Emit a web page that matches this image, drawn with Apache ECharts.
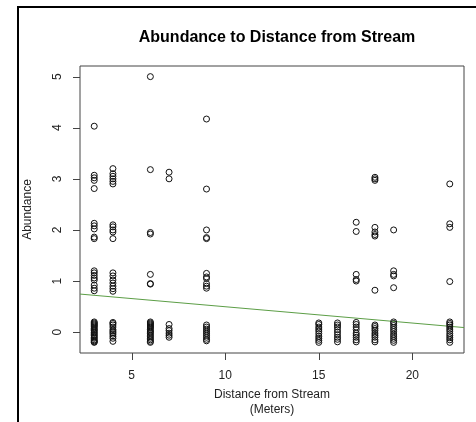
<!DOCTYPE html>
<html>
<head>
<meta charset="utf-8">
<script src="https://cdn.jsdelivr.net/npm/echarts@6/dist/echarts.min.js"></script>
<style>
html,body{margin:0;padding:0;background:#fff;}
#chart{width:476px;height:422px;}
</style>
</head>
<body>
<div id="chart"></div>
<script>
// Distances (meters) and abundance values observed at each distance (jittered as in the source plot)
var distances = [3, 4, 6, 7, 9, 15, 16, 17, 18, 19, 22];
var abund3  = [4.03, 3.07, 3.02, 2.97, 2.81, 2.13, 2.08, 2.02, 1.86, 1.83, 1.2, 1.16, 1.11, 1.06, 1.02, 0.92, 0.86, 0.81,
               0.2, 0.18, 0.16, 0.14, 0.12, 0.1, 0.07, 0.05, 0.03, 0, -0.02, -0.05, -0.07, -0.1, -0.12, -0.15, -0.17, -0.19, -0.2];
var abund4  = [3.2, 3.1, 3.05, 3.0, 2.95, 2.9, 2.1, 2.06, 2.0, 1.96, 1.83, 1.16, 1.1, 1.02, 0.96, 0.9, 0.85, 0.8,
               0.19, 0.17, 0.14, 0.1, 0.05, 0.02, -0.01, -0.04, -0.08, -0.12, -0.18];
var abund6  = [5.0, 3.18, 1.95, 1.92, 1.13, 0.95, 0.94,
               0.2, 0.18, 0.16, 0.14, 0.12, 0.1, 0.08, 0.05, 0.02, 0, -0.03, -0.06, -0.09, -0.12, -0.15, -0.18, -0.2];
var abund7  = [3.13, 3.0, 0.15, 0.07, 0.03, -0.02, -0.06, -0.1];
var abund9  = [4.17, 2.8, 2.0, 1.85, 1.83, 1.15, 1.08, 1.05, 0.95, 0.9, 0.86,
               0.14, 0.1, 0.06, 0.02, -0.02, -0.06, -0.1, -0.14, -0.17];
var abund15 = [0.18, 0.15, 0.1, 0.06, 0.02, -0.03, -0.08, -0.12, -0.16, -0.2];
var abund16 = [0.18, 0.14, 0.1, 0.05, 0, -0.05, -0.1, -0.14, -0.19];
var abund17 = [2.15, 1.97, 1.13, 1.03, 1.0, 0.19, 0.15, 0.1, 0.05, -0.02, -0.06, -0.1, -0.15, -0.19];
var abund18 = [3.03, 3.0, 2.97, 2.05, 1.96, 1.91, 1.88, 0.82, 0.14, 0.11, 0.07, 0.03, -0.02, -0.06, -0.1, -0.15, -0.19];
var abund19 = [2.0, 1.2, 1.13, 1.1, 0.87, 0.2, 0.17, 0.13, 0.09, 0.05, 0.01, -0.04, -0.08, -0.12, -0.16, -0.2];
var abund22 = [2.9, 2.12, 2.05, 0.99, 0.2, 0.17, 0.14, 0.1, 0.06, 0.02, -0.03, -0.07, -0.11, -0.15, -0.2];
var abundances = [abund3, abund4, abund6, abund7, abund9, abund15, abund16, abund17, abund18, abund19, abund22];

// Fitted regression line endpoints (read at the plot edges)
var fitX = [2.24, 22.76];
var fitY = [0.745, 0.09];

var xTicks = [5, 10, 15, 20];
var yTicks = [0, 1, 2, 3, 4, 5];

var X_MIN = 2.24, X_MAX = 22.76, Y_MIN = -0.408, Y_MAX = 5.208;

var points = [];
distances.forEach(function (d, i) {
  abundances[i].forEach(function (v) { points.push([d, v]); });
});
var fitLine = fitX.map(function (x, i) { return [x, fitY[i]]; });

var W = 476, H = 422;
var G = {left: 80, right: 12, top: 66, bottom: 69};
var axisColor = '#444';
var font = 'Liberation Sans, Arial, sans-serif';
var TICK_LEN = 7;

// Tick positions follow the same linear axis mapping as the grid
function xPix(v) { return G.left + (v - X_MIN) / (X_MAX - X_MIN) * (W - G.left - G.right); }
function yPix(v) { return (H - G.bottom) - (v - Y_MIN) / (Y_MAX - Y_MIN) * (H - G.top - G.bottom); }

var elements = [
  {type: 'line', silent: true, zlevel: 1, shape: {x1: 18, y1: 7, x2: 476, y2: 7}, style: {stroke: '#000', lineWidth: 2}},
  {type: 'line', silent: true, zlevel: 1, shape: {x1: 18, y1: 6, x2: 18, y2: 422}, style: {stroke: '#000', lineWidth: 2}}
];
xTicks.forEach(function (t) {
  var x = Math.round(xPix(t)) + 0.5, y = H - G.bottom;
  elements.push({type: 'line', silent: true, zlevel: 1,
    shape: {x1: x, y1: y, x2: x, y2: y + TICK_LEN}, style: {stroke: axisColor, lineWidth: 1}});
});
yTicks.forEach(function (t) {
  var y = Math.round(yPix(t)) + 0.5, x = G.left;
  elements.push({type: 'line', silent: true, zlevel: 1,
    shape: {x1: x, y1: y, x2: x - TICK_LEN, y2: y}, style: {stroke: axisColor, lineWidth: 1}});
});

var chart = echarts.init(document.getElementById('chart'), null, {renderer: 'canvas'});
chart.setOption({
  animation: false,
  backgroundColor: '#fff',
  title: {
    text: 'Abundance to Distance from Stream',
    left: 272, top: 25, textAlign: 'center',
    textStyle: {fontFamily: font, fontSize: 16, fontWeight: 'bold', color: '#000'}
  },
  graphic: {elements: elements},
  grid: {left: G.left, right: G.right, top: G.top, bottom: G.bottom, show: true, borderColor: axisColor, borderWidth: 1, containLabel: false},
  xAxis: {
    type: 'value', min: X_MIN, max: X_MAX,
    name: 'Distance from Stream\n(Meters)', nameLocation: 'middle', nameGap: 28,
    nameTextStyle: {fontFamily: font, fontSize: 12, color: '#222', lineHeight: 15, verticalAlign: 'top'},
    axisLine: {show: false, onZero: false},
    splitLine: {show: false},
    axisTick: {show: false},
    axisLabel: {fontFamily: font, fontSize: 12, color: '#222', margin: 17, customValues: xTicks}
  },
  yAxis: {
    type: 'value', min: Y_MIN, max: Y_MAX,
    name: 'Abundance', nameLocation: 'middle', nameGap: 46, nameRotate: 90,
    nameTextStyle: {fontFamily: font, fontSize: 12, color: '#222'},
    axisLine: {show: false, onZero: false},
    splitLine: {show: false},
    axisTick: {show: false},
    axisLabel: {fontFamily: font, fontSize: 12, color: '#222', margin: 16, rotate: 90, customValues: yTicks}
  },
  series: [{
    type: 'scatter', data: points, symbol: 'circle', symbolSize: 6,
    itemStyle: {color: 'rgba(0,0,0,0)', borderColor: '#111', borderWidth: 1, opacity: 1},
    emphasis: {disabled: true}
  }, {
    type: 'line', data: fitLine, symbol: 'none',
    lineStyle: {color: '#5c9e46', width: 1}, z: 1
  }]
});
</script>
</body>
</html>
